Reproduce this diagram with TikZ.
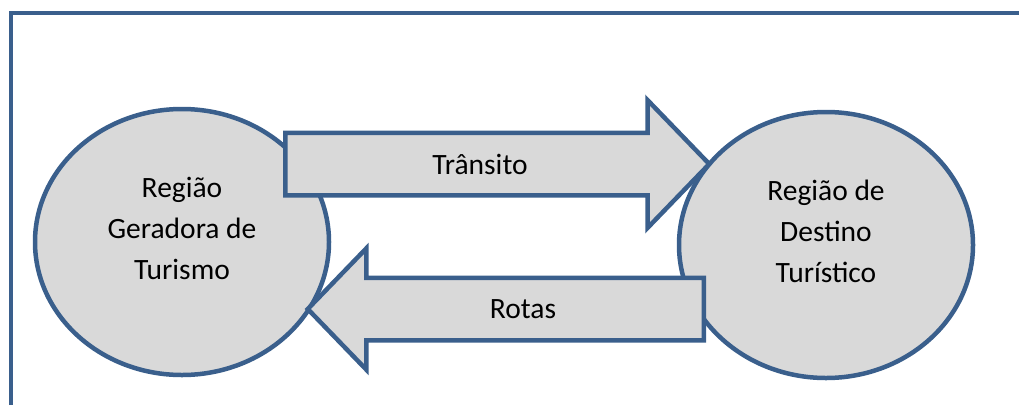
\documentclass[tikz,border=0pt]{standalone}
\usepackage{fontspec}
\setmainfont{Carlito}
\usetikzlibrary{shapes.geometric,shapes.arrows}
\definecolor{rimblue}{HTML}{3A5F8C}
\definecolor{boxgray}{HTML}{D9D9D9}
\tikzset{
  region/.style={ellipse, draw=rimblue, fill=boxgray, line width=4.5pt,
    minimum width=294pt, minimum height=266pt, inner sep=0pt},
  flow/.style={single arrow, draw=rimblue, fill=boxgray, line width=4.5pt,
    inner sep=0pt, text height=29pt, text depth=29pt},
  txt/.style={align=center, font=\fontsize{29.5}{41}\selectfont}
}
\begin{document}
\begin{tikzpicture}[x=1pt, y=-1pt]
\useasboundingbox (0,0) rectangle (1019,405);
% frame
\draw[rimblue, line width=4.5pt] (11,405) -- (11,13) -- (1019,13);
% nodes
\node[region] (ger)  at (182,242) {};
\node[region] (dest) at (826,245) {};
\node[txt] (gerlbl)  at (182,228) {Região\\Geradora de\\Turismo};
\node[txt] (destlbl) at (826,231) {Região de\\Destino\\Turístico};
% arrows
\node[flow, anchor=tail, minimum height=424pt,
  single arrow head extend=32.5pt, single arrow tip angle=92] (transito) at (283,164) {};
\node[flow, anchor=tail, shape border rotate=180, minimum height=396pt,
  single arrow head extend=29.5pt, single arrow tip angle=92] (rotas) at (706,309) {};
\node[txt] (translbl) at (480,164) {Trânsito};
\node[txt] (rotaslbl) at (523,309) {Rotas};
\end{tikzpicture}
\end{document}
